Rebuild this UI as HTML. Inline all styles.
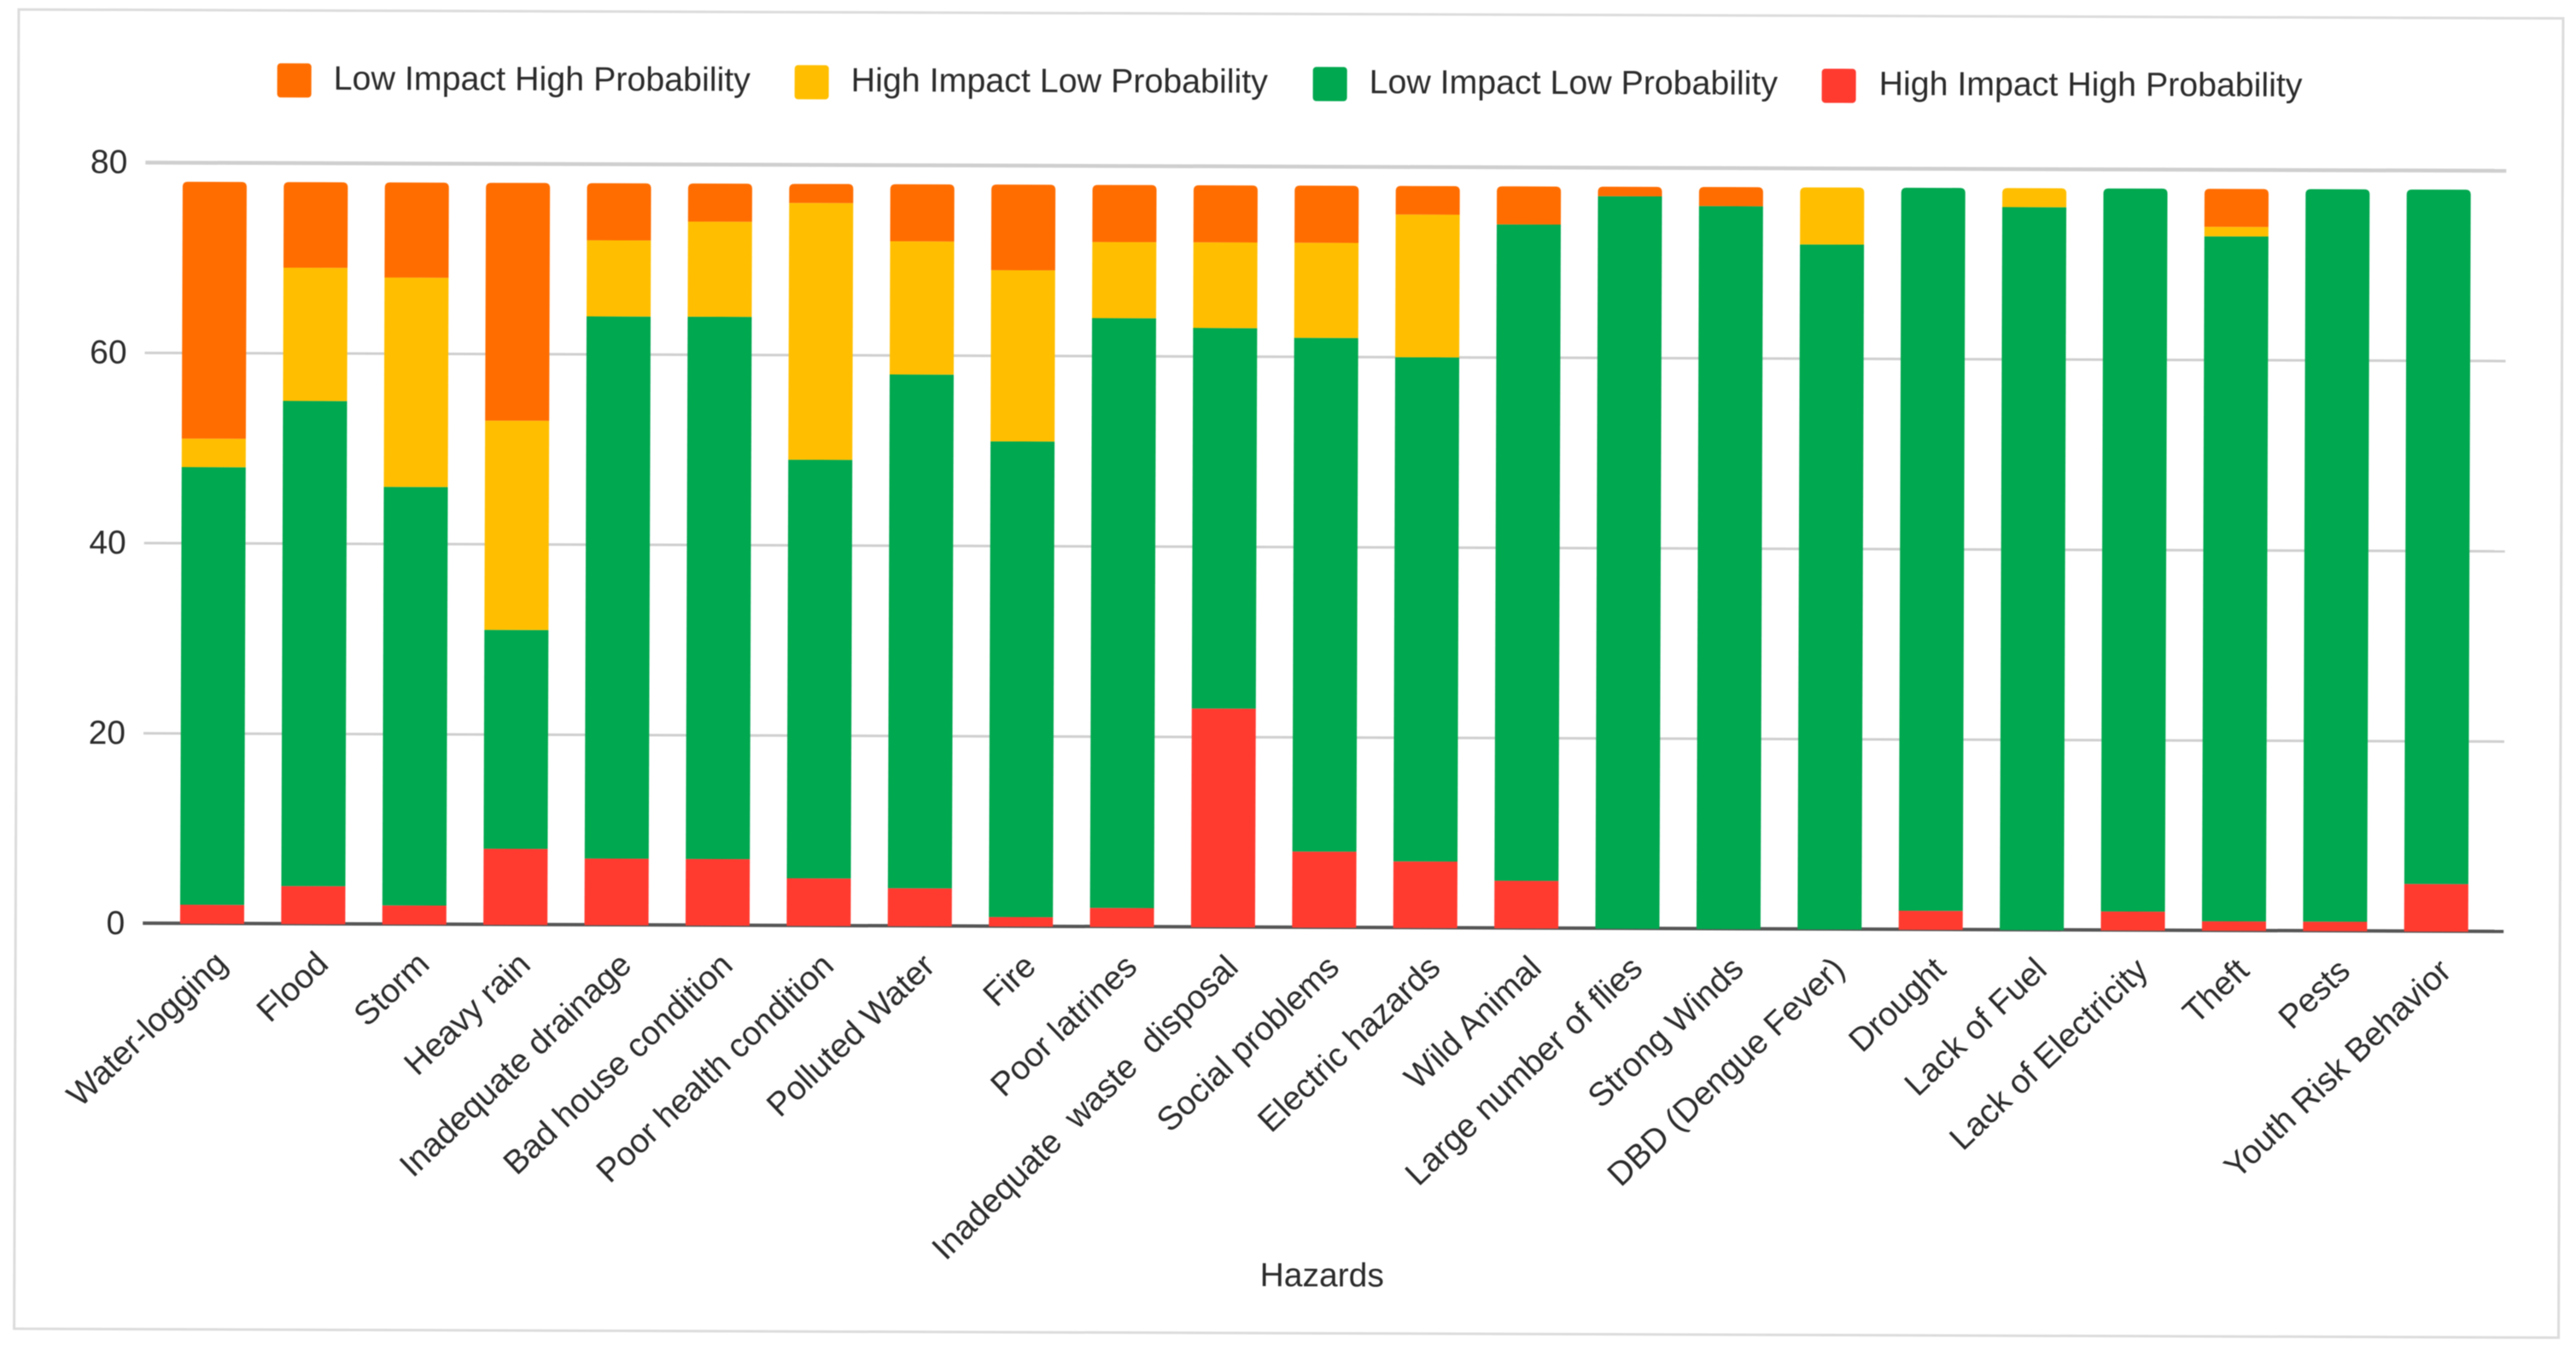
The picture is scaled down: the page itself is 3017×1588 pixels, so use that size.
<!DOCTYPE html>
<html lang="en">
<head>
<meta charset="utf-8">
<title>Hazards stacked bar chart</title>
<style>
html,body{margin:0;padding:0;background:#fff;}
svg{display:block;filter:blur(0.6px);}
text{font-family:"Liberation Sans",Arial,sans-serif;fill:#2b2b2b;}
</style>
</head>
<body>
<svg id="chart" xmlns="http://www.w3.org/2000/svg" width="3017" height="1588" viewBox="0 0 3017 1588">
  <rect x="0" y="0" width="3017" height="1588" fill="#fff"/>
  <g id="root" transform="rotate(0.2)">
    <rect x="22" y="11" width="2980" height="1545" fill="#fff" stroke="#dcdcdc" stroke-width="3"/>
    <g>
      <g>
        <rect x="325" y="73" width="40" height="40" rx="4" fill="#FF6D00"/>
        <text x="391" y="103.5" font-size="39.4">Low Impact High Probability</text>
      </g>
      <g>
        <rect x="931" y="73" width="40" height="40" rx="4" fill="#FFBF00"/>
        <text x="997" y="103.5" font-size="39.4">High Impact Low Probability</text>
      </g>
      <g>
        <rect x="1538" y="73" width="40" height="40" rx="4" fill="#00A84F"/>
        <text x="1604" y="103.5" font-size="39.3">Low Impact Low Probability</text>
      </g>
      <g>
        <rect x="2134" y="73" width="40" height="40" rx="4" fill="#FF3B30"/>
        <text x="2201" y="103.5" font-size="39.3">High Impact High Probability</text>
      </g>
    </g>
    <g id="grid"></g>
    <g id="yticks"></g>
    <line x1="171" x2="2936" y1="1080.5" y2="1080.5" stroke="#555" stroke-width="4"/>
    <g id="bars"></g>
    <g id="xticks"></g>
    <text x="1553.5" y="1501" font-size="39" text-anchor="middle">Hazards</text>
  </g>
</svg>
<script>
const categories = ["Water-logging","Flood","Storm","Heavy rain","Inadequate drainage","Bad house condition","Poor health condition","Polluted Water","Fire","Poor latrines","Inadequate waste disposal","Social problems","Electric hazards","Wild Animal","Large number of flies","Strong Winds","DBD (Dengue Fever)","Drought","Lack of Fuel","Lack of Electricity","Theft","Pests","Youth Risk Behavior"];
const highImpactHighProbability = [2,4,2,8,7,7,5,4,1,2,23,8,7,5,0,0,0,2,0,2,1,1,5];
const lowImpactLowProbability = [46,51,44,23,57,57,44,54,50,62,40,54,53,69,77,76,72,76,76,76,72,77,73];
const highImpactLowProbability = [3,14,22,22,8,10,27,14,18,8,9,10,15,0,0,0,6,0,2,0,1,0,0];
const lowImpactHighProbability = [27,9,10,25,6,4,2,6,9,6,6,6,3,4,1,2,0,0,0,0,4,0,0];
const yTicks = [0,20,40,60,80];

const SVGNS = "http://www.w3.org/2000/svg";
const plotLeft = 193, plotStep = 118.4, barWidth = 75;
const yZero = 1081, yUnit = 11.14;
function xCenter(i){ return plotLeft + plotStep * (i + 0.5); }
function yScale(v){ return yZero - v * yUnit; }

const stackOrder = [
  {key:"high-impact-high-probability", values:highImpactHighProbability, color:"#FF3B30"},
  {key:"low-impact-low-probability", values:lowImpactLowProbability, color:"#00A84F"},
  {key:"high-impact-low-probability", values:highImpactLowProbability, color:"#FFBF00"},
  {key:"low-impact-high-probability", values:lowImpactHighProbability, color:"#FF6D00"}
];

const gridG = document.getElementById("grid");
const yG = document.getElementById("yticks");
yTicks.forEach(function(t){
  if (t !== 0) {
    const ln = document.createElementNS(SVGNS, "line");
    
    
    ln.setAttribute("x1", 171);
    ln.setAttribute("x2", 2936);
    ln.setAttribute("y1", yScale(t));
    ln.setAttribute("y2", yScale(t));
    ln.setAttribute("stroke", "#cfcfcf");
    ln.setAttribute("stroke-width", t === 80 ? 4.5 : 3);
    gridG.appendChild(ln);
  }
  const lb = document.createElementNS(SVGNS, "text");
  
  
  lb.setAttribute("x", 150);
  lb.setAttribute("y", yScale(t) + 12.5);
  lb.setAttribute("font-size", 39);
  lb.setAttribute("text-anchor", "end");
  lb.textContent = String(t);
  yG.appendChild(lb);
});

const barsG = document.getElementById("bars");
const xG = document.getElementById("xticks");
categories.forEach(function(name, i){
  const left = xCenter(i) - barWidth / 2;
  let topIdx = -1;
  stackOrder.forEach(function(s, k){ if (s.values[i] > 0) topIdx = k; });
  let cum = 0;
  stackOrder.forEach(function(s, k){
    const v = s.values[i];
    if (v <= 0) return;
    const y1 = yScale(cum), y2 = yScale(cum + v);
    cum += v;
    const r = k === topIdx ? Math.min(6, y1 - y2) : 0;
    const seg = document.createElementNS(SVGNS, "path");
    
    
    seg.setAttribute("d", "M" + left + " " + y1 + "V" + (y2 + r) + "Q" + left + " " + y2 + " " + (left + r) + " " + y2 + "H" + (left + barWidth - r) + "Q" + (left + barWidth) + " " + y2 + " " + (left + barWidth) + " " + (y2 + r) + "V" + y1 + "Z");
    seg.setAttribute("fill", s.color);
    barsG.appendChild(seg);
  });
  const lbl = document.createElementNS(SVGNS, "text");
  const ex = xCenter(i) + 20, ey = 1130;
  const isLongest = name.length > 24;
  const angle = isLongest ? -45 : -44;
  
  
  lbl.setAttribute("x", ex);
  lbl.setAttribute("y", ey);
  lbl.setAttribute("font-size", 39);
  lbl.setAttribute("text-anchor", "end");
  if (isLongest) lbl.setAttribute("word-spacing", 12);
  lbl.setAttribute("transform", "rotate(" + angle + " " + ex + " " + ey + ")");
  lbl.textContent = name;
  xG.appendChild(lbl);
});
</script>
</body>
</html>
